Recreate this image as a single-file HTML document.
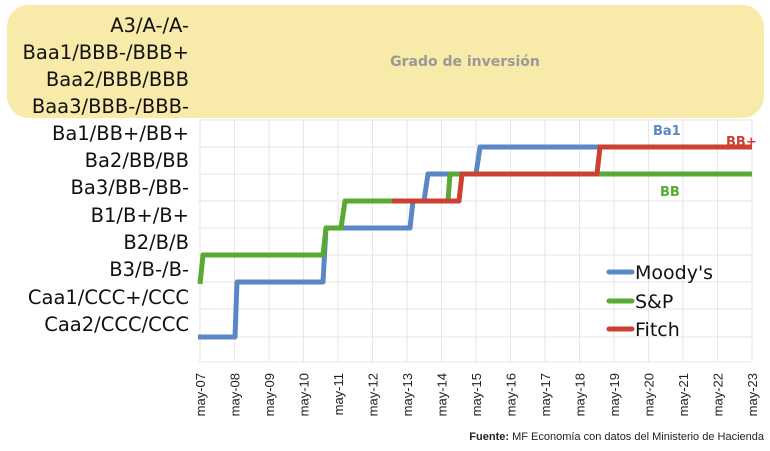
<!DOCTYPE html>
<html><head><meta charset="utf-8"><style>
body{margin:0;width:770px;height:446px;background:#fff;overflow:hidden}
</style></head><body>
<svg width="770" height="446" xmlns="http://www.w3.org/2000/svg" font-family="Liberation Sans, DejaVu Sans, sans-serif">
<rect x="7" y="5" width="757" height="113" rx="22" fill="#f8eaa9"/>
<g stroke="#e6e6e6" stroke-width="1">
<line x1="198" y1="120" x2="752" y2="120"/><line x1="198" y1="147" x2="752" y2="147"/>
<line x1="198" y1="174" x2="752" y2="174"/><line x1="198" y1="201" x2="752" y2="201"/>
<line x1="198" y1="228" x2="752" y2="228"/><line x1="198" y1="255" x2="752" y2="255"/>
<line x1="198" y1="282" x2="752" y2="282"/><line x1="198" y1="309" x2="752" y2="309"/>
<line x1="198" y1="337" x2="752" y2="337"/><line x1="198" y1="362" x2="752" y2="362"/>
<line x1="200" y1="120" x2="200" y2="362"/><line x1="234.5" y1="120" x2="234.5" y2="362"/><line x1="269" y1="120" x2="269" y2="362"/><line x1="303.5" y1="120" x2="303.5" y2="362"/><line x1="338" y1="120" x2="338" y2="362"/><line x1="372.5" y1="120" x2="372.5" y2="362"/><line x1="407" y1="120" x2="407" y2="362"/><line x1="441.5" y1="120" x2="441.5" y2="362"/><line x1="476" y1="120" x2="476" y2="362"/><line x1="510.5" y1="120" x2="510.5" y2="362"/><line x1="545" y1="120" x2="545" y2="362"/><line x1="579.5" y1="120" x2="579.5" y2="362"/><line x1="614" y1="120" x2="614" y2="362"/><line x1="648.5" y1="120" x2="648.5" y2="362"/><line x1="683" y1="120" x2="683" y2="362"/><line x1="717.5" y1="120" x2="717.5" y2="362"/><line x1="752" y1="120" x2="752" y2="362"/>
</g>
<text x="465" y="66" text-anchor="middle" font-size="14" font-weight="bold" fill="#999" font-family="DejaVu Sans, sans-serif">Grado de inversión</text>
<g font-size="19.5" fill="#111" text-anchor="end" font-family="DejaVu Sans, sans-serif">
<text x="189" y="32">A3/A-/A-</text><text x="189" y="59">Baa1/BBB-/BBB+</text>
<text x="189" y="86">Baa2/BBB/BBB</text><text x="189" y="113">Baa3/BBB-/BBB-</text>
<text x="189" y="140">Ba1/BB+/BB+</text><text x="189" y="167">Ba2/BB/BB</text>
<text x="189" y="194">Ba3/BB-/BB-</text><text x="189" y="222">B1/B+/B+</text>
<text x="189" y="249">B2/B/B</text><text x="189" y="276">B3/B-/B-</text>
<text x="189" y="304">Caa1/CCC+/CCC</text><text x="189" y="331">Caa2/CCC/CCC</text>
</g>
<g fill="none" stroke-width="5" stroke-linejoin="round">
<polyline stroke="#5b87c5" points="198,337 235,337 237,282 323,282 326,228 410,228 413,201 424,201 428,174 476,174 480,147 600,147"/>
<polyline stroke="#58aa32" points="200,284 203,255 323,255 326,228 341,228 345,201 448,201 450,174 752,174"/>
<polyline stroke="#cc4232" points="392,201 459,201 462,174 597,174 600,147 752,147"/>
</g>
<g font-family="DejaVu Sans, sans-serif" font-size="13" font-weight="bold">
<text x="653" y="135" fill="#5b87c5">Ba1</text>
<text x="726" y="146" fill="#cc4232">BB+</text>
<text x="660" y="196" fill="#58aa32">BB</text>
</g>
<g stroke-width="5" stroke-linecap="round">
<line x1="609" y1="272" x2="632" y2="272" stroke="#5b87c5"/>
<line x1="609" y1="301" x2="632" y2="301" stroke="#58aa32"/>
<line x1="609" y1="329" x2="632" y2="329" stroke="#cc4232"/>
</g>
<g font-size="19" fill="#111" font-family="DejaVu Sans, sans-serif">
<text x="635" y="279">Moody's</text><text x="635" y="308">S&amp;P</text><text x="635" y="336">Fitch</text>
</g>
<g font-size="13" fill="#222" text-anchor="end" font-family="Liberation Sans Narrow, Liberation Sans, sans-serif">
<text transform="translate(205,373) rotate(-90)">may-07</text>
<text transform="translate(239.5,373) rotate(-90)">may-08</text>
<text transform="translate(274,373) rotate(-90)">may-09</text>
<text transform="translate(308.5,373) rotate(-90)">may-10</text>
<text transform="translate(343,373) rotate(-90)">may-11</text>
<text transform="translate(377.5,373) rotate(-90)">may-12</text>
<text transform="translate(412,373) rotate(-90)">may-13</text>
<text transform="translate(446.5,373) rotate(-90)">may-14</text>
<text transform="translate(481,373) rotate(-90)">may-15</text>
<text transform="translate(515.5,373) rotate(-90)">may-16</text>
<text transform="translate(550,373) rotate(-90)">may-17</text>
<text transform="translate(584.5,373) rotate(-90)">may-18</text>
<text transform="translate(619,373) rotate(-90)">may-19</text>
<text transform="translate(653.5,373) rotate(-90)">may-20</text>
<text transform="translate(688,373) rotate(-90)">may-21</text>
<text transform="translate(722.5,373) rotate(-90)">may-22</text>
<text transform="translate(757,373) rotate(-90)">may-23</text>
</g>
<text x="764" y="440" text-anchor="end" font-size="11" fill="#222" font-family="Liberation Sans Narrow, Liberation Sans, sans-serif"><tspan font-weight="bold">Fuente:</tspan> MF Economía con datos del Ministerio de Hacienda</text>
</svg>
</body></html>
